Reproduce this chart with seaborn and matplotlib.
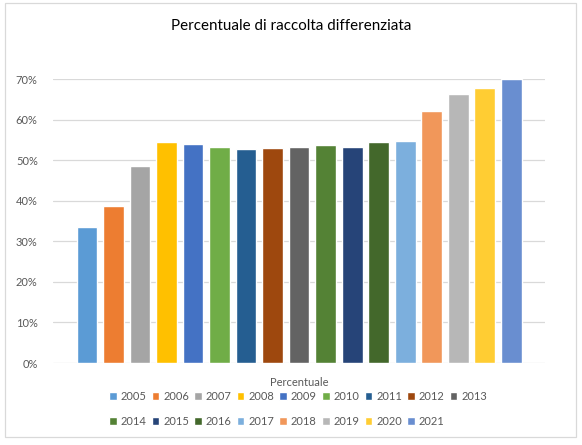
#!/usr/bin/env python3

# Percentuale di raccolta differenziata, 2005-2021, Excel-like bar chart.

import pandas as pd
import seaborn as sns
import matplotlib.pyplot as plt
from matplotlib.patches import Rectangle

years = ['2005', '2006', '2007', '2008', '2009', '2010', '2011', '2012', '2013',
         '2014', '2015', '2016', '2017', '2018', '2019', '2020', '2021']
values = [33.5, 38.7, 48.6, 54.5, 54.0, 53.2, 52.8, 52.9, 53.2,
          53.8, 53.3, 54.5, 54.7, 62.0, 66.4, 67.7, 70.0]
colors = ['#5B9BD5', '#ED7D31', '#A5A5A5', '#FFC000', '#4472C4', '#70AD47',
          '#255E91', '#9E480E', '#636363', '#548235', '#264478', '#43682B',
          '#7CAFDD', '#F1975A', '#B7B7B7', '#FFCD33', '#698ED0']
yticks = [0, 10, 20, 30, 40, 50, 60, 70]

sns.set_style('white')
plt.rcParams['font.family'] = ['Lato', 'DejaVu Sans']

df = pd.DataFrame({'anno': years, 'valore': values})

fig = plt.figure(figsize=(5.82, 4.45), dpi=100)
ax = fig.add_axes([53 / 582, 1 - 363 / 445, 492 / 582, 284 / 445])

sns.barplot(data=df, x='anno', y='valore', hue='anno', palette=colors,
            dodge=False, width=0.78, saturation=1, legend=True, ax=ax)

# Axes look (Excel style).
ax.set_xlim(-1.28, 17.27)
ax.set_ylim(0, 70)
ax.set_yticks(yticks)
ax.set_yticklabels([f'{t}%' for t in yticks], color='#595959', fontsize=8)
ax.set_xticks([])
ax.tick_params(axis='y', length=0, pad=11)
ax.grid(axis='y', color='#D9D9D9', linewidth=0.9)
ax.set_axisbelow(True)
for s in ax.spines.values():
    s.set_visible(False)
ax.set_ylabel('')
ax.set_xlabel('Percentuale', color='#595959', fontsize=8, labelpad=10)

# Legend at the bottom, two rows filled row by row.
handles, labels = ax.get_legend_handles_labels()
ax.get_legend().remove()
order = []
for c in range(8):
    order += [c, c + 9]
order.append(8)
fig.legend([handles[i] for i in order], [labels[i] for i in order],
           loc='center', bbox_to_anchor=(0.5 + 7 / 582, 1 - 409 / 445),
           ncol=9, frameon=False, fontsize=8, labelcolor='#595959',
           handlelength=0.7, handleheight=0.7, handletextpad=0.35,
           columnspacing=0.45, labelspacing=1.3)

fig.text(0.5, 1 - 26 / 445, 'Percentuale di raccolta differenziata',
         ha='center', va='center', fontsize=10.9, color='black')

# Chart area border.
fig.patches.append(Rectangle((5 / 582, 1 - 437 / 445), 571 / 582, 434 / 445,
                             transform=fig.transFigure, fill=False,
                             edgecolor='#D9D9D9', linewidth=0.9))

fig.savefig('out.png', dpi=100)
